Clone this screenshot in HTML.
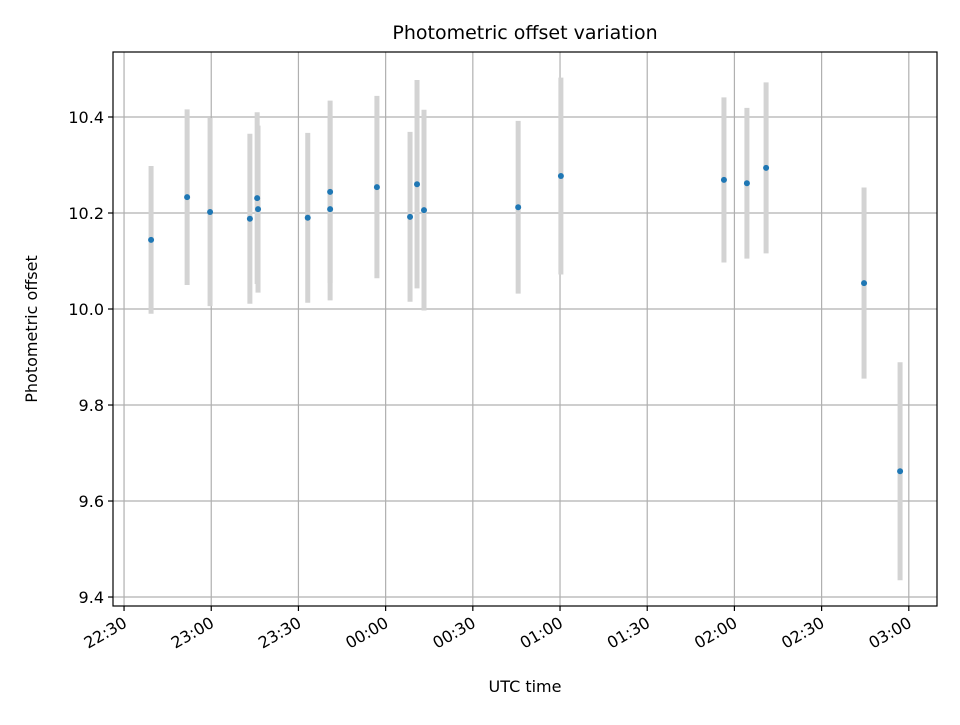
<!DOCTYPE html>
<html><head><meta charset="utf-8"><style>
body{margin:0;background:#fff}
svg text{font-family:"DejaVu Sans","Liberation Sans",sans-serif;fill:#000}
</style></head><body>
<svg id="chart" width="960" height="720" xmlns="http://www.w3.org/2000/svg">
<rect width="960" height="720" fill="#fff"/>
<g id="grid"></g>
<g id="bars"></g>
<g id="pts"></g>
<rect x="113" y="52" width="824" height="554" fill="none" stroke="#000" stroke-width="1.2"/>
<g id="axes"></g>
<text x="525" y="39" text-anchor="middle" font-size="19">Photometric offset variation</text>
<text x="525" y="692" text-anchor="middle" font-size="16">UTC time</text>
<text x="37" y="329" text-anchor="middle" font-size="16" transform="rotate(-90 37 329)">Photometric offset</text>
</svg>
<script>
// minutes after 22:30 UTC
const times=[9.3,21.7,29.6,43.3,45.8,46.1,63.2,70.9,70.9,87.0,98.4,100.8,103.2,135.6,150.3,206.4,214.3,220.9,254.6,267.0];
const values=[10.144,10.233,10.202,10.188,10.231,10.208,10.190,10.244,10.208,10.254,10.192,10.260,10.206,10.212,10.277,10.269,10.262,10.294,10.054,9.662];
const errors=[0.154,0.183,0.196,0.177,0.179,0.174,0.177,0.19,0.19,0.19,0.177,0.217,0.209,0.18,0.205,0.172,0.157,0.178,0.199,0.227];
const xTickMinutes=[0,30,60,90,120,150,180,210,240,270];
const xTickLabels=["22:30","23:00","23:30","00:00","00:30","01:00","01:30","02:00","02:30","03:00"];
const yTicks=[9.4,9.6,9.8,10.0,10.2,10.4];
const yTickLabels=["9.4","9.6","9.8","10.0","10.2","10.4"];

const X0=113,X1=937,Y0=52,Y1=606;
const xMin=-3.8,xMax=279.7,yMin=9.3813,yMax=10.5354;
const sx=v=>X0+(v-xMin)/(xMax-xMin)*(X1-X0);
const sy=v=>Y1-(v-yMin)/(yMax-yMin)*(Y1-Y0);
const NS="http://www.w3.org/2000/svg";
function mk(tag,attrs,parent){const e=document.createElementNS(NS,tag);for(const k in attrs)e.setAttribute(k,attrs[k]);parent.appendChild(e);return e;}
const grid=document.getElementById('grid'),axes=document.getElementById('axes'),bars=document.getElementById('bars'),pts=document.getElementById('pts');
xTickMinutes.forEach((m,i)=>{
  const x=sx(m);
  const g=mk('line',{x1:x,x2:x,y1:Y0,y2:Y1,stroke:'#b0b0b0','stroke-width':1.2},grid);
  
  
  const t=mk('line',{x1:x,x2:x,y1:Y1,y2:Y1+5,stroke:'#000','stroke-width':1.2},axes);
  
  
  const tx=mk('text',{x:x+4,y:Y1+20,'text-anchor':'end','font-size':16,transform:`rotate(-30 ${x+4} ${Y1+20})`},axes);
  tx.textContent=xTickLabels[i];
  
  
});
yTicks.forEach((v,i)=>{
  const y=sy(v);
  const g=mk('line',{x1:X0,x2:X1,y1:y,y2:y,stroke:'#b0b0b0','stroke-width':1.2},grid);
  
  
  const t=mk('line',{x1:X0-5,x2:X0,y1:y,y2:y,stroke:'#000','stroke-width':1.2},axes);
  
  
  const tx=mk('text',{x:X0-9,y:y+6,'text-anchor':'end','font-size':16},axes);
  tx.textContent=yTickLabels[i];
  
  
});
times.forEach((m,i)=>{
  const x=sx(m);
  const b=mk('line',{x1:x,x2:x,y1:sy(values[i]+errors[i]),y2:sy(values[i]-errors[i]),stroke:'#d3d3d3','stroke-width':5},bars);
  
  
  const c=mk('circle',{cx:x,cy:sy(values[i]),r:3,fill:'#1f77b4'},pts);
  
  
});
</script>
</body></html>
